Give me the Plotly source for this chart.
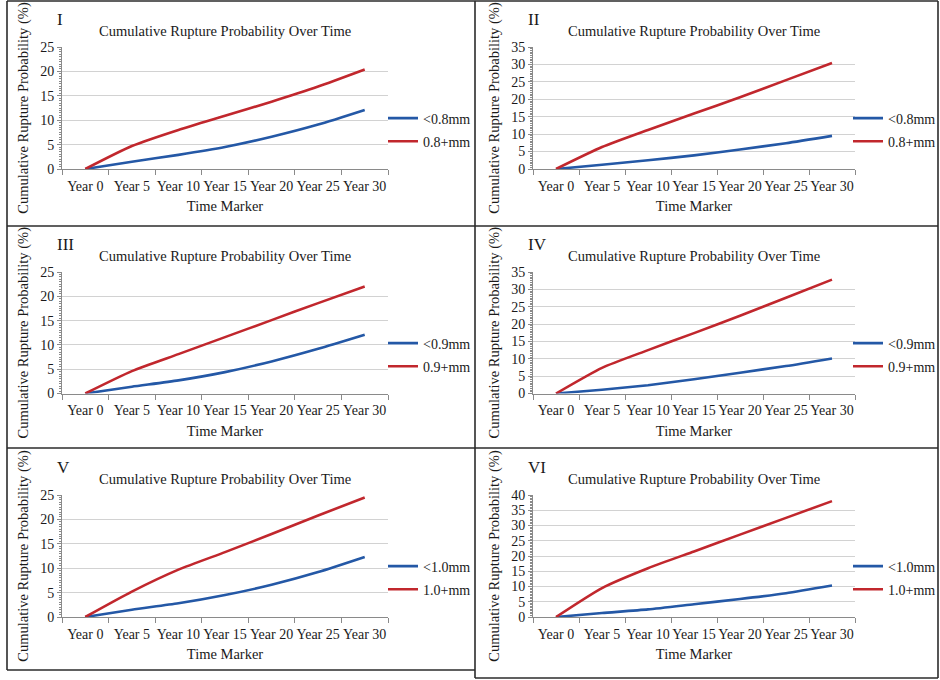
import plotly.graph_objects as go

W, H = 940, 680

years = ["Year 0", "Year 5", "Year 10", "Year 15", "Year 20", "Year 25", "Year 30"]

panel_labels = ["I", "II", "III", "IV", "V", "VI"]

small_names = ["<0.8mm", "<0.8mm", "<0.9mm", "<0.9mm", "<1.0mm", "<1.0mm"]
large_names = ["0.8+mm", "0.8+mm", "0.9+mm", "0.9+mm", "1.0+mm", "1.0+mm"]

p1_small = [0, 1.5, 2.9, 4.5, 6.6, 9.1, 12.1]
p1_large = [0, 4.7, 8.0, 10.9, 13.8, 16.9, 20.4]
p2_small = [0, 1.2, 2.5, 3.9, 5.6, 7.4, 9.5]
p2_large = [0, 6.3, 11.2, 15.9, 20.6, 25.5, 30.4]
p3_small = [0, 1.4, 2.7, 4.4, 6.6, 9.2, 12.1]
p3_large = [0, 4.6, 8.1, 11.6, 15.1, 18.6, 22.0]
p4_small = [0, 1.1, 2.4, 4.1, 6.0, 7.9, 10.1]
p4_large = [0, 7.4, 12.5, 17.4, 22.4, 27.6, 32.8]
p5_small = [0, 1.5, 2.8, 4.5, 6.6, 9.2, 12.3]
p5_large = [0, 5.2, 9.7, 13.3, 17.0, 20.8, 24.5]
p6_small = [0, 1.3, 2.5, 4.2, 5.9, 7.8, 10.3]
p6_large = [0, 9.5, 16.0, 21.5, 27.0, 32.5, 38.0]

y_max = [25, 35, 25, 35, 25, 40]

small_series = [p1_small, p2_small, p3_small, p4_small, p5_small, p6_small]
large_series = [p1_large, p2_large, p3_large, p4_large, p5_large, p6_large]

BLUE = "#2458a6"
RED = "#c1272d"
FONT = "Liberation Serif"
TXT = "#1a1a1a"
GRID = "#d2d2d2"
AXIS = "#8a8a8a"

def fx(p):
    return p / W

def fy(p):
    return 1 - p / H

# plot-area pixel boxes
col_x = [(62, 388), (533, 855)]
row_y = [(47, 169), (272, 393.5), (495, 617)]
legend_x = [383, 848]

fig = go.Figure()
annotations = []
layout = {}

for i in range(6):
    r, c = divmod(i, 2)
    x0, x1 = col_x[c]
    yt, yb = row_y[r]
    n = "" if i == 0 else str(i + 1)
    xa = "x" + n
    ya = "y" + n
    leg = "legend" + n
    fig.add_trace(go.Scatter(
        x=years, y=small_series[i], name=small_names[i], mode="lines",
        line=dict(color=BLUE, width=2.6, shape="spline", smoothing=0.6),
        xaxis=xa, yaxis=ya, legend=leg, legendgroup=f"s{i}",
    ))
    fig.add_trace(go.Scatter(
        x=years, y=large_series[i], name=large_names[i], mode="lines",
        line=dict(color=RED, width=2.6, shape="spline", smoothing=0.6),
        xaxis=xa, yaxis=ya, legend=leg, legendgroup=f"l{i}",
    ))
    layout["xaxis" + n] = dict(
        domain=[fx(x0), fx(x1)], anchor=ya, type="category",
        range=[-0.5, len(years) - 0.5],
        tickson="boundaries", ticks="outside", ticklen=5, tickcolor=AXIS,
        tickangle=0, ticklabelstandoff=4,
        showgrid=False, showline=True, linecolor=AXIS, linewidth=1,
        tickfont=dict(family=FONT, size=14, color=TXT),
        title=dict(text="Time Marker", font=dict(family=FONT, size=14.5, color=TXT), standoff=8),
        fixedrange=True,
    )
    layout["yaxis" + n] = dict(
        domain=[fy(yb), fy(yt)], anchor=xa, range=[0, y_max[i]], dtick=5,
        ticks="outside", ticklen=4, tickcolor=AXIS,
        minor=dict(dtick=0.5, ticks="outside", ticklen=2, tickcolor=AXIS, showgrid=False),
        showgrid=True, gridcolor=GRID, gridwidth=1,
        showline=True, linecolor=AXIS, linewidth=1, zeroline=False,
        tickfont=dict(family=FONT, size=14, color=TXT),
        title=dict(text="Cumulative Rupture Probability (%)",
                   font=dict(family=FONT, size=14.5, color=TXT), standoff=8),
        fixedrange=True,
    )
    layout[leg] = dict(
        x=fx(legend_x[c]), xanchor="left", y=fy(yt + 83), yanchor="middle",
        font=dict(family=FONT, size=14, color=TXT), bgcolor="rgba(0,0,0,0)",
        itemwidth=30, traceorder="grouped", tracegroupgap=2,
    )
    annotations.append(dict(
        text="Cumulative Rupture Probability Over Time", xref="paper", yref="paper",
        x=fx((x0 + x1) / 2), y=fy(yt - 16), xanchor="center", yanchor="middle",
        showarrow=False, font=dict(family=FONT, size=14.5, color=TXT),
    ))
    annotations.append(dict(
        text=panel_labels[i], xref="paper", yref="paper",
        x=fx(x0 - 7), y=fy(yt - 28), xanchor="left", yanchor="middle",
        showarrow=False, font=dict(family=FONT, size=17, color=TXT),
    ))

frame = dict(type="line", xref="paper", yref="paper", line=dict(color="#2b2b2b", width=1.6))
shapes = [
    dict(frame, x0=fx(7), x1=fx(938), y0=fy(1), y1=fy(1)),
    dict(frame, x0=fx(7), x1=fx(7), y0=fy(1), y1=fy(670)),
    dict(frame, x0=fx(938), x1=fx(938), y0=fy(1), y1=fy(678)),
    dict(frame, x0=fx(475), x1=fx(475), y0=fy(1), y1=fy(678)),
    dict(frame, x0=fx(7), x1=fx(475), y0=fy(670), y1=fy(670)),
    dict(frame, x0=fx(475), x1=fx(938), y0=fy(678), y1=fy(678)),
    dict(frame, x0=fx(7), x1=fx(938), y0=fy(226), y1=fy(226)),
    dict(frame, x0=fx(7), x1=fx(938), y0=fy(448), y1=fy(448)),
]

fig.update_layout(
    width=W, height=H, margin=dict(l=0, r=0, t=0, b=0, autoexpand=False),
    paper_bgcolor="white", plot_bgcolor="white",
    annotations=annotations, shapes=shapes, showlegend=True,
    **layout,
)

fig.write_html(
    "out.html",
    config={"displayModeBar": False},
    post_script="document.documentElement.style.margin='0';document.body.style.margin='0';"
                "document.body.style.padding='0';document.body.style.overflow='hidden';",
)
